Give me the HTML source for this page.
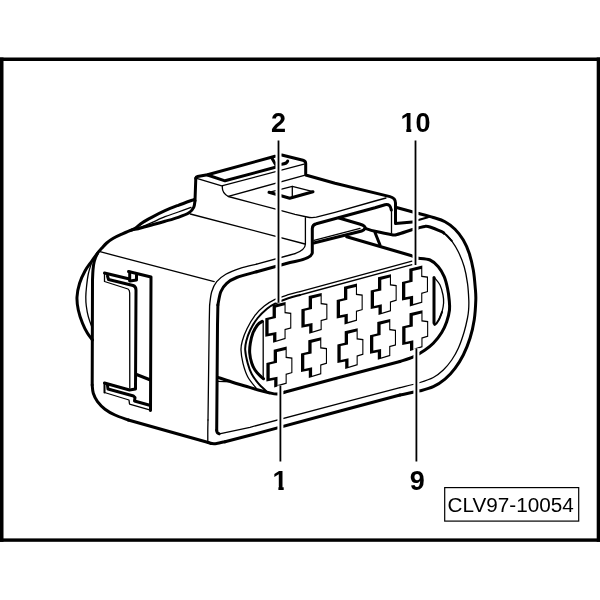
<!DOCTYPE html>
<html><head><meta charset="utf-8"><title>CLV97-10054</title>
<style>
html,body{margin:0;padding:0;background:#fff;}
body{width:600px;height:600px;overflow:hidden;position:relative;font-family:"Liberation Sans",sans-serif;}
svg{position:absolute;left:0;top:0;filter:grayscale(1);}
.k{fill:none;stroke:#000;stroke-width:3;stroke-linecap:round;stroke-linejoin:round;}
.m{fill:none;stroke:#000;stroke-width:2;stroke-linecap:round;stroke-linejoin:round;}
.n{fill:none;stroke:#000;stroke-width:1.3;stroke-linecap:round;stroke-linejoin:round;}
.num{font-family:"Liberation Sans",sans-serif;font-weight:bold;font-size:27px;fill:#000;text-anchor:middle;}
.lab{font-family:"Liberation Sans",sans-serif;font-size:20.7px;fill:#000;}
</style></head><body>
<svg width="600" height="600" viewBox="0 0 600 600">
<rect x="0" y="57.5" width="600" height="3.5" fill="#000"/><rect x="0" y="538.4" width="600" height="3.4" fill="#000"/><rect x="0" y="57.5" width="3.5" height="484.3" fill="#000"/><rect x="596.7" y="57.5" width="3.3" height="484.3" fill="#000"/>
<g class="n">
<path d="M191.00,207.30 C188.88,208.08 182.63,210.43 178.30,212.00 C173.97,213.57 169.43,214.92 165.00,216.70 C160.57,218.48 155.48,221.03 151.70,222.70 C147.92,224.37 145.25,225.57 142.30,226.70 C139.35,227.83 135.38,229.03 134.00,229.50"/>
<path d="M93.50,258.00 C93.20,258.75 92.57,259.83 91.70,262.50 C90.83,265.17 89.17,269.92 88.30,274.00 C87.43,278.08 86.92,283.17 86.50,287.00 C86.08,290.83 85.83,293.83 85.80,297.00 C85.77,300.17 85.88,302.72 86.30,306.00 C86.72,309.28 87.40,313.25 88.30,316.70 C89.20,320.15 91.00,324.65 91.70,326.70 C92.40,328.75 92.37,328.62 92.50,329.00"/>
<path d="M100.00,251.70 L214.20,281.70"/>
<path d="M196.70,178.30 L221.70,185.80 L304.00,164.20"/>
<path d="M228.30,196.40 L304.30,175.30"/>
<path d="M222.5,185.8 Q221.3,192.5 228.3,196.5 L275.8,209.2 L295,214.3 L307,217 Q311.5,218.2 316.3,217.2 L335,212.3 L375,201 L386,198"/>
<path d="M305.4,217.7 L305.4,244.3 Q305.2,250 295,253.7"/>
<path d="M190.30,214.00 L305.00,244.00"/>
<path d="M269.00,192.30 L292.30,186.30 L313.00,191.70"/>
<path d="M292.30,186.30 L292.30,196.80"/>
<path d="M207.80,441.00 C207.80,439.17 207.77,433.50 207.80,430.00 C207.83,426.50 207.97,421.67 208.00,420.00"/>
<path d="M208.00,420.00 L209.20,325.00 L209.60,305.00"/>
<path d="M209.60,305.00 C209.95,302.78 210.52,295.58 211.70,291.70 C212.88,287.82 214.35,284.62 216.70,281.70 C219.05,278.78 221.92,276.43 225.80,274.20 C229.68,271.97 234.85,269.97 240.00,268.30 C245.15,266.63 253.92,264.88 256.70,264.20"/>
<path d="M256.70,264.20 L290.00,255.00 L295.00,253.70"/>
<path d="M391.50,209.00 L391.50,233.00"/>
<path d="M446.00,234.80 C446.95,235.80 449.65,237.98 451.70,240.80 C453.75,243.62 456.22,247.38 458.30,251.70 C460.38,256.02 462.67,261.43 464.20,266.70 C465.73,271.97 466.73,277.75 467.50,283.30 C468.27,288.85 468.62,295.55 468.80,300.00 C468.98,304.45 468.82,307.00 468.60,310.00 C468.38,313.00 468.23,314.38 467.50,318.00 C466.77,321.62 465.73,326.65 464.20,331.70 C462.67,336.75 460.38,343.58 458.30,348.30 C456.22,353.02 454.20,356.38 451.70,360.00 C449.20,363.62 446.37,367.08 443.30,370.00 C440.23,372.92 437.18,375.42 433.30,377.50 C429.42,379.58 425.55,380.80 420.00,382.50 C414.45,384.20 403.33,386.83 400.00,387.70"/>
<path d="M400.00,387.70 L340.00,403.30 L250.00,427.30 L219.40,433.80"/>
<path d="M360.00,228.30 L314.00,240.30"/>
<path d="M217.70,381.30 L232.00,381.80"/>
<path d="M256.00,388.00 C254.62,386.12 249.87,380.82 247.70,376.70 C245.53,372.58 244.12,367.75 243.00,363.30 C241.88,358.85 241.12,353.72 241.00,350.00 C240.88,346.28 241.30,344.55 242.30,341.00 C243.30,337.45 244.88,332.98 247.00,328.70 C249.12,324.42 252.12,319.08 255.00,315.30 C257.88,311.52 260.97,308.67 264.30,306.00 C267.63,303.33 271.00,301.18 275.00,299.30 C279.00,297.42 284.13,295.98 288.30,294.70 C292.47,293.42 298.05,292.12 300.00,291.60"/>
<path d="M300.00,291.60 L412.00,261.20"/>
<path d="M300.00,295.00 L412.00,264.60"/>
<path d="M263.20,321.30 L263.20,378.70"/>
<path d="M434.60,277.80 C435.50,279.00 438.60,282.13 440.00,285.00 C441.40,287.87 442.40,292.00 443.00,295.00 C443.60,298.00 443.77,300.17 443.60,303.00 C443.43,305.83 442.77,309.25 442.00,312.00 C441.23,314.75 439.50,318.25 439.00,319.50"/>
<path d="M104.5,273 L104.5,281.5 L128,289 Q129.7,290 129.7,293 L129.8,388"/>
<path d="M104.50,392.50 L129.00,400.00 L129.50,404.00 L150.50,410.00"/>
</g>
<g class="m">
<path d="M412.50,222.00 L418.50,220.00 L428.00,217.20"/>
<path d="M441.70,231.70 C442.42,232.22 444.33,233.28 446.00,234.80 C447.67,236.32 450.75,239.80 451.70,240.80"/>
<path d="M266.00,391.00 C264.72,389.72 260.68,386.13 258.30,383.30 C255.92,380.47 253.47,377.33 251.70,374.00 C249.93,370.67 248.78,367.30 247.70,363.30 C246.62,359.30 245.43,353.72 245.20,350.00 C244.97,346.28 245.45,344.33 246.30,341.00 C247.15,337.67 248.40,333.83 250.30,330.00 C252.20,326.17 254.92,321.55 257.70,318.00 C260.48,314.45 264.12,311.10 267.00,308.70 C269.88,306.30 271.45,305.35 275.00,303.60 C278.55,301.85 284.13,299.63 288.30,298.20 C292.47,296.77 298.05,295.53 300.00,295.00"/>
<path d="M434.00,323.00 C434.17,323.30 434.17,325.38 435.00,324.80 C435.83,324.22 437.83,321.63 439.00,319.50 C440.17,317.37 441.50,313.25 442.00,312.00"/>
<path d="M104.50,383.00 L104.50,392.50"/>
</g>
<g class="k">
<path d="M195.80,178.30 L195.00,200.70"/>
<path d="M195.00,200.70 C194.78,201.80 194.70,205.30 193.70,207.30 C192.70,209.30 191.57,211.03 189.00,212.70 C186.43,214.37 182.30,215.87 178.30,217.30 C174.30,218.73 169.43,220.02 165.00,221.30 C160.57,222.58 156.15,223.77 151.70,225.00 C147.25,226.23 141.63,227.87 138.30,228.70 C134.97,229.53 134.47,229.08 131.70,230.00 C128.93,230.92 124.77,232.82 121.70,234.20 C118.63,235.58 115.80,236.83 113.30,238.30 C110.80,239.77 108.63,241.33 106.70,243.00 C104.77,244.67 103.23,246.58 101.70,248.30 C100.17,250.02 98.75,251.07 97.50,253.30 C96.25,255.53 94.95,258.92 94.20,261.70 C93.45,264.48 93.28,266.95 93.00,270.00 C92.72,273.05 92.58,278.33 92.50,280.00"/>
<path d="M92.50,280.00 L92.20,385.00"/>
<path d="M92.20,385.00 C92.38,386.38 92.42,390.52 93.30,393.30 C94.18,396.08 95.55,399.05 97.50,401.70 C99.45,404.35 102.08,406.98 105.00,409.20 C107.92,411.42 111.12,413.20 115.00,415.00 C118.88,416.80 126.08,419.17 128.30,420.00"/>
<path d="M128.30,420.00 L170.00,431.70 L208.30,442.50"/>
<path d="M208.30,442.50 C208.92,442.68 210.60,443.43 212.00,443.60 C213.40,443.77 214.53,443.82 216.70,443.50 C218.87,443.18 223.62,442.00 225.00,441.70"/>
<path d="M225.00,441.70 L250.00,435.30 L340.00,411.00 L400.00,395.00"/>
<path d="M400.00,395.00 C403.33,394.30 414.45,392.18 420.00,390.80 C425.55,389.42 429.13,388.63 433.30,386.70 C437.47,384.77 441.38,382.27 445.00,379.20 C448.62,376.13 451.95,372.33 455.00,368.30 C458.05,364.27 460.80,360.00 463.30,355.00 C465.80,350.00 468.18,344.13 470.00,338.30 C471.82,332.47 473.23,326.38 474.20,320.00 C475.17,313.62 475.62,305.28 475.80,300.00 C475.98,294.72 475.72,293.30 475.30,288.30 C474.88,283.30 474.32,275.83 473.30,270.00 C472.28,264.17 470.87,258.30 469.20,253.30 C467.53,248.30 465.67,244.02 463.30,240.00 C460.93,235.98 458.05,232.25 455.00,229.20 C451.95,226.15 448.62,223.65 445.00,221.70 C441.38,219.75 437.72,218.87 433.30,217.50 C428.88,216.13 420.97,214.17 418.50,213.50"/>
<path d="M418.50,213.50 L396.50,207.50"/>
<path d="M194.50,199.30 C191.80,200.30 183.22,203.40 178.30,205.30 C173.38,207.20 169.43,208.70 165.00,210.70 C160.57,212.70 155.48,215.30 151.70,217.30 C147.92,219.30 144.97,220.92 142.30,222.70 C139.63,224.48 137.47,226.78 135.70,228.00 C133.93,229.22 132.37,229.67 131.70,230.00"/>
<path d="M97.50,253.30 C96.50,254.67 93.58,258.55 91.50,261.50 C89.42,264.45 86.98,267.37 85.00,271.00 C83.02,274.63 80.93,278.97 79.60,283.30 C78.27,287.63 77.22,292.55 77.00,297.00 C76.78,301.45 77.38,305.62 78.30,310.00 C79.22,314.38 80.97,319.42 82.50,323.30 C84.03,327.18 85.83,330.52 87.50,333.30 C89.17,336.08 91.67,338.88 92.50,340.00"/>
<path d="M195.8,178.3 Q196,176.8 197.5,176.5 L207.5,174.8 L275,156.3"/>
<path d="M281.7,155 L303,160.3 Q305.7,161 305.7,163.5 L305.7,175 L335,183.2 L390,196.6 Q395.5,198 395.5,203 L395.5,223.5 L412.5,222"/>
<path d="M207.50,175.00 L225.00,180.80 L276.30,167.00"/>
<path d="M271.70,157.70 L276.30,165.70"/>
<path d="M281.7,164.3 Q287,163.6 287.7,161"/>
<path d="M269.00,192.30 L289.70,198.30 L313.00,191.70"/>
<path d="M219.20,433.80 C218.88,433.60 217.72,433.18 217.30,432.60 C216.88,432.02 216.80,430.68 216.70,430.30"/>
<path d="M216.70,430.30 L217.50,325.00 L217.90,305.00"/>
<path d="M217.90,305.00 C218.38,302.78 219.33,295.32 220.80,291.70 C222.27,288.08 224.05,285.67 226.70,283.30 C229.35,280.93 231.70,279.43 236.70,277.50 C241.70,275.57 253.37,272.67 256.70,271.70"/>
<path d="M256.7,271.7 L290,262.5 L295,261.5 Q311,258.5 312.3,253 L312.3,228.5 Q312.5,224.5 316.3,223.7 L375,207.7 L385,204.7 Q390.5,203.5 391.3,210"/>
<path d="M365.00,228.30 C366.67,228.80 370.50,230.23 375.00,231.30 C379.50,232.37 388.33,234.17 392.00,234.70 C395.67,235.23 393.58,235.37 397.00,234.50 C400.42,233.63 408.92,230.58 412.50,229.50 C416.08,228.42 416.42,228.52 418.50,228.00 C420.58,227.48 423.08,226.57 425.00,226.40 C426.92,226.23 427.22,226.12 430.00,227.00 C432.78,227.88 439.37,230.67 441.70,231.70 C444.03,232.73 443.62,232.95 444.00,233.20"/>
<path d="M339,218 L360.3,224.3 Q365.8,226 365,228.3 Q364.3,230.3 361.7,231 L313.7,243"/>
<path d="M346.70,236.70 L411.70,255.80 L418.30,258.30"/>
<path d="M375.00,232.50 L380.00,245.00"/>
<path d="M418.30,258.30 C420.25,258.58 426.67,258.60 430.00,260.00 C433.33,261.40 435.93,263.92 438.30,266.70 C440.67,269.48 442.67,273.10 444.20,276.70 C445.73,280.30 446.67,284.42 447.50,288.30 C448.33,292.18 448.87,296.38 449.20,300.00 C449.53,303.62 449.92,306.38 449.50,310.00 C449.08,313.62 448.00,317.95 446.70,321.70 C445.40,325.45 443.93,328.90 441.70,332.50 C439.47,336.10 436.08,340.38 433.30,343.30 C430.52,346.22 428.33,347.73 425.00,350.00 C421.67,352.27 417.47,354.98 413.30,356.90 C409.13,358.82 402.22,360.73 400.00,361.50"/>
<path d="M400.00,361.50 L340.00,377.30 L284.30,392.30"/>
<path d="M284.30,392.30 C283.08,392.58 279.55,393.93 277.00,394.00 C274.45,394.07 272.12,393.37 269.00,392.70 C265.88,392.03 262.30,391.12 258.30,390.00 C254.30,388.88 249.43,387.33 245.00,386.00 C240.57,384.67 236.25,383.45 231.70,382.00 C227.15,380.55 220.03,378.08 217.70,377.30"/>
<path d="M262.30,321.30 C261.53,321.87 259.25,322.80 257.70,324.70 C256.15,326.60 254.23,329.60 253.00,332.70 C251.77,335.80 250.85,339.92 250.30,343.30 C249.75,346.68 249.47,349.72 249.70,353.00 C249.93,356.28 250.82,360.17 251.70,363.00 C252.58,365.83 253.45,367.72 255.00,370.00 C256.55,372.28 259.58,375.25 261.00,376.70 C262.42,378.15 263.08,378.37 263.50,378.70"/>
<path d="M434.00,277.50 L434.00,323.00"/>
<path d="M104.50,273.00 L129.50,279.00"/>
<path d="M129.70,272.00 L129.70,280.50"/>
<path d="M128.50,271.50 L151.00,277.00 L150.50,410.50"/>
<path d="M136.50,275.00 L136.50,280.00 L130.00,281.00"/>
<path d="M107.5,276 L108.5,279.5 L133,285.5 Q136,286.5 136,290 L135.5,389 L129.5,390 L104.5,383"/>
<path d="M136.50,374.50 L150.50,380.00"/>
<path d="M107.50,385.00 L108.00,389.00 L133.50,396.00 L135.00,397.50 L134.50,401.00 L150.50,405.50"/>
</g>
<polygon points="272.6,305.0 285.6,301.9 285.6,312.0 291.3,312.8 291.3,328.4 285.6,330.1 285.6,339.0 273.1,342.7 273.1,335.2 265.3,336.8 265.3,318.2 272.6,316.5" fill="#000"/><polygon points="275.9,307.4 284.5,305.2 284.5,313.2 290.2,314.0 290.2,327.5 284.5,329.1 284.5,338.0 276.4,340.4 276.4,332.0 268.6,333.6 268.6,319.8 275.9,318.1" fill="#fff"/>
<polygon points="308.7,296.0 321.7,292.9 321.7,303.0 327.4,303.8 327.4,319.4 321.7,321.1 321.7,330.0 309.2,333.7 309.2,326.2 301.4,327.8 301.4,309.2 308.7,307.5" fill="#000"/><polygon points="312.0,298.4 320.6,296.2 320.6,304.2 326.3,305.0 326.3,318.5 320.6,320.1 320.6,329.0 312.5,331.4 312.5,323.0 304.7,324.6 304.7,310.8 312.0,309.1" fill="#fff"/>
<polygon points="344.0,286.7 357.0,283.6 357.0,293.7 362.7,294.5 362.7,310.1 357.0,311.8 357.0,320.7 344.5,324.4 344.5,316.9 336.7,318.5 336.7,299.9 344.0,298.2" fill="#000"/><polygon points="347.3,289.1 355.9,286.9 355.9,294.9 361.6,295.7 361.6,309.2 355.9,310.8 355.9,319.7 347.8,322.1 347.8,313.7 340.0,315.3 340.0,301.5 347.3,299.8" fill="#fff"/>
<polygon points="378.0,277.3 391.0,274.2 391.0,284.3 396.7,285.1 396.7,300.7 391.0,302.4 391.0,311.3 378.5,315.0 378.5,307.5 370.7,309.1 370.7,290.5 378.0,288.8" fill="#000"/><polygon points="381.3,279.7 389.9,277.5 389.9,285.5 395.6,286.3 395.6,299.8 389.9,301.4 389.9,310.3 381.8,312.7 381.8,304.3 374.0,305.9 374.0,292.1 381.3,290.4" fill="#fff"/>
<polygon points="409.3,268.7 422.3,265.6 422.3,275.7 428.0,276.5 428.0,292.1 422.3,293.8 422.3,302.7 409.8,306.4 409.8,298.9 402.0,300.5 402.0,281.9 409.3,280.2" fill="#000"/><polygon points="412.6,271.1 421.2,268.9 421.2,276.9 426.9,277.7 426.9,291.2 421.2,292.8 421.2,301.7 413.1,304.1 413.1,295.7 405.3,297.3 405.3,283.5 412.6,281.8" fill="#fff"/>
<polygon points="273.7,349.7 286.7,346.6 286.7,356.7 292.4,357.5 292.4,373.1 286.7,374.8 286.7,383.7 274.2,387.4 274.2,379.9 266.4,381.5 266.4,362.9 273.7,361.2" fill="#000"/><polygon points="277.0,352.1 285.6,349.9 285.6,357.9 291.3,358.7 291.3,372.2 285.6,373.8 285.6,382.7 277.5,385.1 277.5,376.7 269.7,378.3 269.7,364.5 277.0,362.8" fill="#fff"/>
<polygon points="308.3,340.3 321.3,337.2 321.3,347.3 327.0,348.1 327.0,363.7 321.3,365.4 321.3,374.3 308.8,378.0 308.8,370.5 301.0,372.1 301.0,353.5 308.3,351.8" fill="#000"/><polygon points="311.6,342.7 320.2,340.5 320.2,348.5 325.9,349.3 325.9,362.8 320.2,364.4 320.2,373.3 312.1,375.7 312.1,367.3 304.3,368.9 304.3,355.1 311.6,353.4" fill="#fff"/>
<polygon points="344.7,331.3 357.7,328.2 357.7,338.3 363.4,339.1 363.4,354.7 357.7,356.4 357.7,365.3 345.2,369.0 345.2,361.5 337.4,363.1 337.4,344.5 344.7,342.8" fill="#000"/><polygon points="348.0,333.7 356.6,331.5 356.6,339.5 362.3,340.3 362.3,353.8 356.6,355.4 356.6,364.3 348.5,366.7 348.5,358.3 340.7,359.9 340.7,346.1 348.0,344.4" fill="#fff"/>
<polygon points="377.3,322.0 390.3,318.9 390.3,329.0 396.0,329.8 396.0,345.4 390.3,347.1 390.3,356.0 377.8,359.7 377.8,352.2 370.0,353.8 370.0,335.2 377.3,333.5" fill="#000"/><polygon points="380.6,324.4 389.2,322.2 389.2,330.2 394.9,331.0 394.9,344.5 389.2,346.1 389.2,355.0 381.1,357.4 381.1,349.0 373.3,350.6 373.3,336.8 380.6,335.1" fill="#fff"/>
<polygon points="409.5,313.3 422.5,310.2 422.5,320.3 428.2,321.1 428.2,336.7 422.5,338.4 422.5,347.3 410.0,351.0 410.0,343.5 402.2,345.1 402.2,326.5 409.5,324.8" fill="#000"/><polygon points="412.8,315.7 421.4,313.5 421.4,321.5 427.1,322.3 427.1,335.8 421.4,337.4 421.4,346.3 413.3,348.7 413.3,340.3 405.5,341.9 405.5,328.1 412.8,326.4" fill="#fff"/>

<line x1="278.5" y1="140.5" x2="278.5" y2="302.7" stroke="#fff" stroke-width="6" stroke-linecap="butt"/>
<line x1="415.5" y1="140.5" x2="415.5" y2="265.0" stroke="#fff" stroke-width="6" stroke-linecap="butt"/>
<line x1="280.4" y1="385.5" x2="280.4" y2="461.5" stroke="#fff" stroke-width="6" stroke-linecap="butt"/>
<line x1="416.4" y1="348.3" x2="416.4" y2="461.5" stroke="#fff" stroke-width="6" stroke-linecap="butt"/>
<line x1="278.5" y1="140.5" x2="278.5" y2="302.7" stroke="#000" stroke-width="1.8" stroke-linecap="butt"/>
<line x1="415.5" y1="140.5" x2="415.5" y2="265.0" stroke="#000" stroke-width="1.8" stroke-linecap="butt"/>
<line x1="280.4" y1="385.5" x2="280.4" y2="461.5" stroke="#000" stroke-width="1.8" stroke-linecap="butt"/>
<line x1="416.4" y1="348.3" x2="416.4" y2="461.5" stroke="#000" stroke-width="1.8" stroke-linecap="butt"/>

<text class="num" x="278.5" y="132">2</text>
<text class="num" x="415.5" y="132">10</text>
<rect x="400" y="128.4" width="6.3" height="5" fill="#fff"/><rect x="411.3" y="128.4" width="4.7" height="5" fill="#fff"/>
<text class="num" x="280" y="490">1</text>
<rect x="271" y="486.4" width="7.4" height="5" fill="#fff"/><rect x="283.7" y="486.4" width="6" height="5" fill="#fff"/>
<text class="num" x="417.3" y="489.5">9</text>
<rect x="444.7" y="487.6" width="134" height="33.5" fill="#fff" stroke="#000" stroke-width="1.2"/>
<text class="lab" x="447.6" y="512">CLV97-10054</text>
</svg>
</body></html>
